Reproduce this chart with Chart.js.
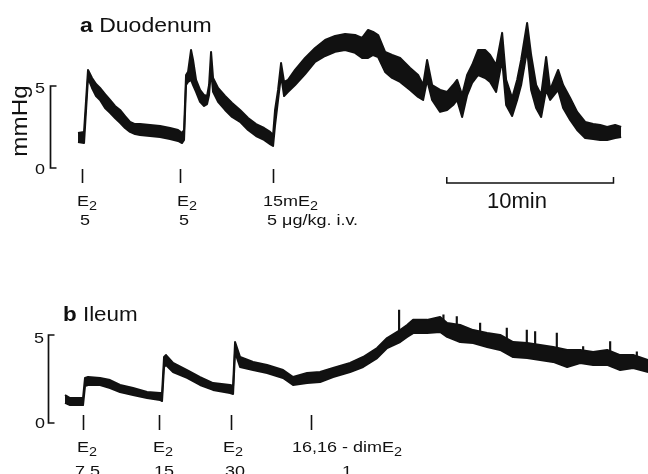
<!DOCTYPE html>
<html>
<head>
<meta charset="utf-8">
<script src="https://cdn.jsdelivr.net/npm/chart.js@4/dist/chart.umd.min.js"></script>
<style>
  html, body { margin:0; padding:0; background:#fff; }
  #wrap { position:relative; width:648px; height:474px; overflow:hidden; }
  #wrap canvas { position:absolute; left:0; top:0; }
  .t { position:absolute; font-family:"Liberation Sans", Arial, sans-serif; line-height:1;
       white-space:nowrap; transform-origin:0 0; color:#111; }
  .t sub { font-size:0.8em; vertical-align:-0.3em; line-height:0; }
  .lab { font-size:15px; transform:scaleX(1.2); }
  .ttl { font-size:20px; transform:scaleX(1.15); }
</style>
</head>
<body>
<div id="wrap">
  <canvas id="chart-a" width="648" height="474"></canvas>
  <canvas id="chart-b" width="648" height="474"></canvas>

  <!-- panel a texts -->
  <div class="t ttl" style="left:80px;top:15px"><b>a</b> Duodenum</div>
  <div class="t" style="left:20px;top:121px;font-size:22px;transform:translate(-50%,-50%) rotate(-90deg) scaleX(1.1);transform-origin:50% 50%">mmHg</div>
  <div class="t lab" style="left:35px;top:80px">5</div>
  <div class="t lab" style="left:35px;top:161px">0</div>
  <div class="t lab" style="left:77px;top:193px">E<sub>2</sub></div>
  <div class="t lab" style="left:80px;top:212px">5</div>
  <div class="t lab" style="left:177px;top:193px">E<sub>2</sub></div>
  <div class="t lab" style="left:179px;top:212px">5</div>
  <div class="t lab" style="left:263px;top:193px">15mE<sub>2</sub></div>
  <div class="t lab" style="left:267px;top:212px">5 μg/kg. i.v.</div>
  <div class="t" style="left:487px;top:190px;font-size:22px">10min</div>

  <!-- panel b texts -->
  <div class="t ttl" style="left:63px;top:304px;transform:scaleX(1.12)"><b>b</b> Ileum</div>
  <div class="t lab" style="left:34px;top:330px">5</div>
  <div class="t lab" style="left:35px;top:415px">0</div>
  <div class="t lab" style="left:77px;top:439px">E<sub>2</sub></div>
  <div class="t lab" style="left:75px;top:463px">7.5</div>
  <div class="t lab" style="left:153px;top:439px">E<sub>2</sub></div>
  <div class="t lab" style="left:154px;top:463px">15</div>
  <div class="t lab" style="left:223px;top:439px">E<sub>2</sub></div>
  <div class="t lab" style="left:225px;top:463px">30</div>
  <div class="t lab" style="left:292px;top:439px">16,16 - dimE<sub>2</sub></div>
  <div class="t lab" style="left:342px;top:463px">1</div>
</div>

<script>
// ─── Duodenum trace (minutes, mmHg: upper / lower edge of the recorded band) ───
const aTime = [0.00,0.36,0.60,0.84,1.08,1.32,1.62,1.92,2.22,2.52,
               2.82,3.12,3.42,3.72,4.32,4.92,5.52,6.00,6.24,6.36,
               6.48,6.60,6.78,6.90,7.08,7.32,7.56,7.74,7.86,7.98,
               8.10,8.40,8.82,9.24,9.72,10.20,10.68,11.16,11.52,11.70,
               11.82,12.00,12.18,12.36,12.60,13.02,13.62,14.22,14.82,15.42,
               16.02,16.62,17.04,17.40,17.70,18.00,18.42,18.84,19.32,19.92,
               20.40,20.70,20.94,21.24,21.72,22.14,22.50,22.74,23.04,23.34,
               23.64,24.00,24.42,24.72,25.08,25.44,25.68,26.04,26.34,26.58,
               26.94,27.18,27.48,27.78,28.08,28.32,28.80,29.10,29.52,29.94,
               30.42,30.90,31.32,31.74,32.22,32.58];
const aHigh = [2.13,2.20,5.98,5.49,5.12,4.88,4.51,4.15,3.78,3.54,
               3.17,2.81,2.68,2.68,2.62,2.56,2.44,2.32,2.13,2.32,
               5.67,5.86,7.20,6.59,5.37,4.76,4.45,4.39,5.06,7.08,
               5.49,4.88,4.39,3.97,3.54,3.05,2.68,2.44,2.20,2.01,
               3.54,4.76,6.40,5.25,5.37,5.98,6.71,7.32,7.81,8.05,
               8.17,8.11,7.93,8.42,8.30,8.11,7.08,6.89,6.71,6.10,
               5.67,5.06,6.59,5.06,4.76,4.64,5.06,5.37,4.45,5.67,
               6.28,7.20,7.20,6.89,6.28,8.24,5.37,4.27,5.37,6.59,
               8.84,6.89,5.06,4.45,6.77,4.76,5.98,5.06,4.27,3.42,
               2.81,2.68,2.62,2.50,2.62,2.50];
const aLow  = [1.59,1.52,5.49,4.88,4.39,4.15,3.66,3.36,3.05,2.75,
               2.44,2.20,2.07,2.01,1.95,1.89,1.77,1.65,1.52,1.71,
               5.06,5.25,5.37,5.06,4.64,4.03,3.78,3.90,4.45,5.98,
               4.64,4.03,3.54,3.11,2.81,2.32,1.95,1.71,1.46,1.34,
               2.62,4.15,5.67,4.39,4.64,5.06,5.73,6.47,6.83,7.08,
               7.20,7.02,6.71,6.71,6.89,6.77,5.86,5.49,5.25,4.76,
               4.33,4.15,5.37,4.15,3.42,3.54,3.84,4.15,3.11,4.45,
               5.19,5.67,5.49,5.25,4.64,6.59,3.84,3.17,4.15,5.06,
               7.20,4.76,3.66,3.11,4.76,4.15,4.76,3.66,2.93,2.32,
               1.83,1.77,1.71,1.71,1.83,1.89];
const aMarks = [0.22, 6.12, 11.72];      // injection times
const aScaleBar = [22.12, 32.12];         // 10 min bar

// ─── Ileum trace ───
const bTime = [-0.78,-0.48,0.30,0.42,0.60,1.32,1.92,2.52,3.30,4.14,
               4.92,5.04,5.16,5.28,5.70,6.54,7.32,8.10,9.12,9.30,
               9.42,9.72,10.50,11.34,12.30,12.90,13.74,14.52,15.30,16.32,
               17.10,17.94,18.54,19.32,19.74,20.10,20.94,21.72,22.14,22.92,
               23.70,24.54,25.32,26.10,26.94,27.72,28.50,29.34,30.12,30.90,
               31.74,32.52,33.30,34.20];
const bHigh = [1.59,1.42,1.42,2.56,2.61,2.56,2.44,2.16,1.99,1.76,
               1.70,1.70,3.75,3.86,3.41,3.01,2.61,2.27,2.16,2.10,
               4.60,3.75,3.47,3.30,3.01,2.61,2.84,2.90,3.13,3.41,
               3.75,4.26,4.83,5.28,5.57,5.86,5.86,6.02,5.68,5.57,
               5.28,5.11,5.00,4.60,4.54,4.43,4.32,4.15,4.15,4.03,
               4.15,3.86,3.86,3.58];
const bLow  = [1.14,1.02,1.02,2.10,2.16,2.16,1.99,1.76,1.59,1.42,
               1.31,1.25,3.18,3.30,2.90,2.56,2.16,1.88,1.70,1.65,
               4.03,3.18,3.01,2.84,2.56,2.16,2.27,2.33,2.61,2.90,
               3.18,3.69,4.26,4.60,4.89,5.11,5.11,5.17,4.89,4.60,
               4.54,4.32,4.15,3.75,3.69,3.58,3.47,3.18,3.41,3.30,
               3.30,3.01,3.13,2.90];
// short contraction spikes standing above the ileum band
const bSpikeTime = [19.26, 21.92, 22.72, 24.12, 25.72, 26.92, 27.42, 28.72, 30.30, 31.92, 33.52];
const bSpikeBase = [5.00, 5.60, 5.30, 4.90, 4.50, 4.30, 4.20, 4.00, 3.90, 3.80, 3.50];
const bSpikeTop  = [6.42, 6.14, 6.04, 5.68, 5.40, 5.28, 5.19, 5.11, 4.34, 4.62, 4.05];
const bMarks = [0.28, 4.86, 9.16, 14.00];

const INK = '#111';

// bracket axis, injection ticks and time bar, all placed through the chart scales
const extras = {
  id: 'extras',
  afterDatasetsDraw(chart, args, o) {
    const {ctx, scales:{x, y}} = chart;
    const y0 = y.getPixelForValue(0), y5 = y.getPixelForValue(5);
    ctx.save();
    ctx.strokeStyle = INK;
    ctx.lineWidth = 1.7;
    ctx.beginPath();
    ctx.moveTo(o.bracketX + 6, y5);
    ctx.lineTo(o.bracketX, y5);
    ctx.lineTo(o.bracketX, y0);
    ctx.lineTo(o.bracketX + 6, y0);
    ctx.stroke();

    ctx.lineWidth = 1.6;
    o.marks.forEach(t => {
      const px = Math.round(x.getPixelForValue(t)) + 0.5;
      ctx.beginPath();
      ctx.moveTo(px, y0 + o.markFrom);
      ctx.lineTo(px, y0 + o.markTo);
      ctx.stroke();
    });

    if (o.bar) {
      const x1 = x.getPixelForValue(o.bar[0]), x2 = x.getPixelForValue(o.bar[1]);
      const by = y0 + o.barY;
      ctx.lineWidth = 1.5;
      ctx.beginPath();
      ctx.moveTo(x1, by - 6); ctx.lineTo(x1, by); ctx.lineTo(x2, by); ctx.lineTo(x2, by - 6);
      ctx.stroke();
    }
    ctx.restore();
  }
};

function pts(ts, vs) { return ts.map((t, i) => ({x: t, y: vs[i]})); }

function makeTrace(id, time, high, low, yMin, yMax, pad, ex, spikes) {
  const datasets = [
    { type: 'line', data: pts(time, high), borderColor: INK, backgroundColor: INK, borderWidth: 2,
      pointRadius: 0, tension: 0, fill: '+1', borderJoinStyle: 'round' },
    { type: 'line', data: pts(time, low),  borderColor: INK, backgroundColor: INK, borderWidth: 2,
      pointRadius: 0, tension: 0, fill: false, borderJoinStyle: 'round' },
  ];
  if (spikes) {
    datasets.push({
      type: 'bar',
      data: spikes.time.map((t, i) => ({x: t, y: [spikes.base[i], spikes.top[i]]})),
      backgroundColor: INK, barThickness: 1.5, grouped: false
    });
  }
  return new Chart(document.getElementById(id), {
    type: 'line',
    data: { datasets },
    options: {
      responsive: false,
      animation: false,
      events: [],
      layout: { padding: pad },
      plugins: { legend: { display: false }, tooltip: { enabled: false }, extras: ex },
      scales: {
        x: { type: 'linear', display: false, offset: false, min: -4.68, max: 34.19 },
        y: { display: false, min: yMin, max: yMax }
      }
    },
    plugins: [extras]
  });
}

makeTrace('chart-a', aTime, aHigh, aLow, -1, 9,
  { top: 20.4, bottom: 289.6, left: 0, right: 0 },
  { bracketX: 50.5, marks: aMarks, markFrom: 1, markTo: 15, bar: aScaleBar, barY: 15 });

makeTrace('chart-b', bTime, bHigh, bLow, -1, 8,
  { top: 282.2, bottom: 33.4, left: 0, right: 0 },
  { bracketX: 48.5, marks: bMarks, markFrom: -8, markTo: 7, bar: null },
  { time: bSpikeTime, base: bSpikeBase, top: bSpikeTop });
</script>
</body>
</html>
